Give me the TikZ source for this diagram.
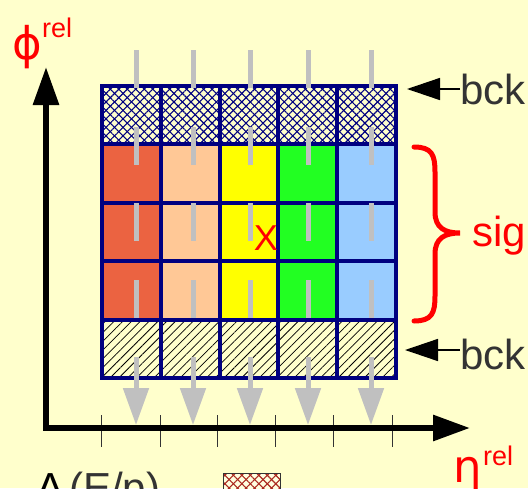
\documentclass[tikz,border=0pt]{standalone}
\usepackage{fontspec}
\setmainfont{Liberation Sans}
\newfontfamily\greekfont{DejaVu Sans}
\usetikzlibrary{arrows.meta,patterns.meta}
\definecolor{bgyellow}{RGB}{255,255,204}
\definecolor{gridblue}{RGB}{0,0,128}
\definecolor{cellred}{RGB}{235,99,65}
\definecolor{cellpeach}{RGB}{255,200,150}
\definecolor{cellyellow}{RGB}{255,255,0}
\definecolor{cellgreen}{RGB}{34,255,34}
\definecolor{cellblue}{RGB}{153,204,255}
\definecolor{seggray}{RGB}{192,192,192}
\definecolor{txtgray}{RGB}{51,51,51}
\definecolor{boxred}{RGB}{170,40,30}
\tikzset{
  grayseg/.style={seggray,line width=5pt},
  gridline/.style={draw=gridblue,line width=4pt},
  biglbl/.style={inner sep=0pt,text=txtgray,font=\fontsize{42}{48}\selectfont},
  suplbl/.style={inner sep=0pt,text=red,font=\fontsize{27}{30}\selectfont},
  greeklbl/.style={inner sep=0pt,text=red,font=\greekfont\fontsize{45}{50}\selectfont},
  hatchA/.style={pattern={Lines[angle=45,distance=6pt,line width=1.1pt]}},
  hatchB/.style={pattern={Lines[angle=-45,distance=6pt,line width=1.1pt]}},
}

\begin{document}
\begin{tikzpicture}[x=1pt,y=-1pt]
\def\cw{58.8}
\def\ch{58.4}
\def\gx{102}
\def\gy{86}
\useasboundingbox (0,0) rectangle (528,488);
\clip (0,0) rectangle (528,488);
\fill[bgyellow] (0,0) rectangle (528,488);
% signal cells, one colour per column
\foreach \c/\col in {0/cellred,1/cellpeach,2/cellyellow,3/cellgreen,4/cellblue}
  \fill[\col] (\gx+\c*\cw,\gy+\ch) rectangle ++(\cw,3*\ch);
% background rows
\fill[hatchA,pattern color=gridblue] (\gx,\gy) rectangle ++(5*\cw,\ch);
\fill[hatchB,pattern color=gridblue] (\gx,\gy) rectangle ++(5*\cw,\ch);
\fill[pattern={Lines[angle=45,distance=6.2pt,line width=0.75pt]},pattern color=black]
  (\gx,\gy+4*\ch) rectangle ++(5*\cw,\ch);
% grid
\draw[gridline] (\gx,\gy) rectangle ++(5*\cw,5*\ch);
\foreach \i in {1,...,4} {
  \draw[gridline] (\gx+\i*\cw,\gy) -- ++(0,5*\ch);
  \draw[gridline] (\gx,\gy+\i*\ch) -- ++(5*\cw,0);
}
% grey strips and arrows
\foreach \x in {136,193,250,308,371} {
  \foreach \y in {50,127,203,280}
    \draw[grayseg] (\x,\y) -- ++(0,38);
  \draw[grayseg,-{Triangle[width=25pt,length=37pt]}] (\x,357) -- (\x,425);
}
\node[inner sep=0pt,text=red,font=\fontsize{36}{40}\selectfont] (sigx) at (266,238) {X};
% axes
\foreach \x in {101,160,217,275,333,392}
  \draw[txtgray,line width=1pt] (\x,415) -- (\x,447);
\coordinate (ytip) at (46,67);
\coordinate (orig) at (46,428);
\coordinate (xtip) at (470,428);
\draw[line width=6pt,line join=miter,{Triangle[width=25pt,length=38pt]}-{Triangle[width=25pt,length=37pt]}]
  (ytip) -- (orig) -- (xtip);
\node[greeklbl,anchor=base west] (phi) at (12,59) {ϕ};
\node[suplbl,anchor=base west] (phirel) at (42,37) {rel};
\node[greeklbl,anchor=base west] (eta) at (453,482) {η};
\node[suplbl,anchor=base west] (etarel) at (483,465) {rel};
% labels on the right
\node[biglbl,anchor=west] (bcktop) at (460,89) {bck};
\node[biglbl,anchor=west] (bckbot) at (460,354) {bck};
\coordinate (bcktoptip) at (407,89);
\coordinate (bckbottip) at (405,350);
\draw[line width=1.5pt,-{Triangle[width=22pt,length=33pt]}] (bcktop.west) -- (bcktoptip);
\draw[line width=1.5pt,-{Triangle[width=22pt,length=33pt]}] (bckbot.west |- bckbottip) -- (bckbottip);
\draw[red,line width=5pt,line cap=round]
  (414,147) .. controls (432,147) and (435,155) .. (435,172) -- (435,212)
  .. controls (435,228) and (445,233) .. (460,233)
  .. controls (445,233) and (435,238) .. (435,254) -- (435,296)
  .. controls (435,313) and (432,321) .. (414,321);
\node[biglbl,text=red,anchor=west] (sig) at (472,236) {sig};
% legend, cut by the frame
\node[biglbl,anchor=base west] (deltaep) at (36,502) {{\color{black}Δ}\kern5pt(E/p)};
\fill[white!40!bgyellow] (223,473) rectangle (280,500);
\fill[hatchA,pattern color=boxred] (223,473) rectangle (280,500);
\fill[hatchB,pattern color=boxred] (223,473) rectangle (280,500);
\draw[txtgray,line width=0.8pt] (223,473) rectangle (280,500);
\end{tikzpicture}
\end{document}
